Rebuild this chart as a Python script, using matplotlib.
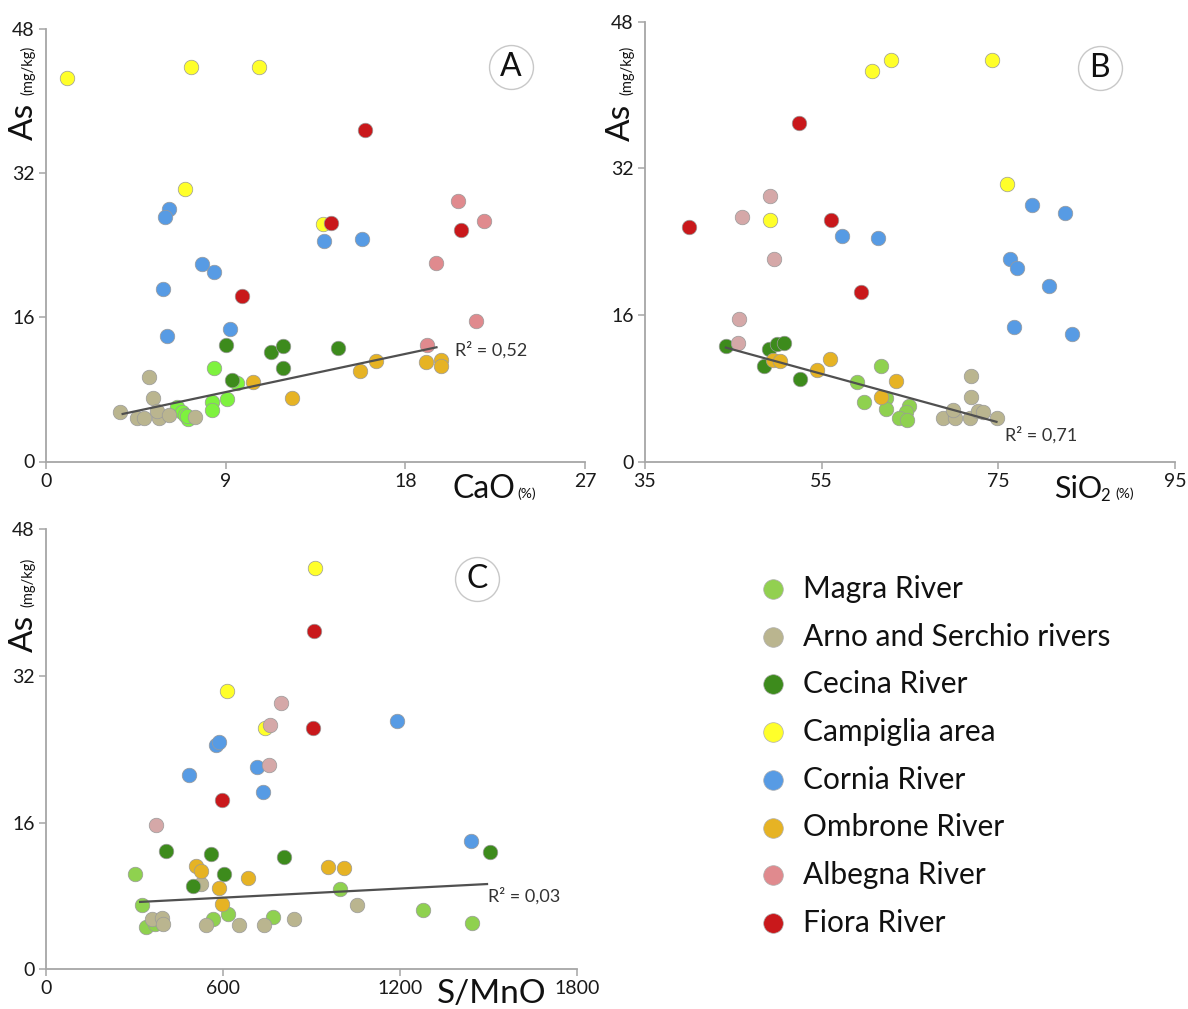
import matplotlib
matplotlib.use("Agg")
import matplotlib.pyplot as plt

plt.rcParams['font.family'] = ['Lato', 'DejaVu Sans']

# ---------------- data ----------------
GROUPS = ["Magra River", "Arno and Serchio rivers", "Cecina River", "Campiglia area",
          "Cornia River", "Ombrone River", "Albegna River", "Fiora River"]

# Panel A: CaO (%) vs As (mg/kg)
A_MAGRA_X = [8.40, 9.59, 9.05, 8.30, 8.30, 6.58, 6.81, 6.98, 7.09, 7.06]
A_MAGRA_Y = [10.4, 8.7, 6.9, 6.6, 5.7, 6.0, 5.5, 5.2, 4.7, 5.0]
A_ARNO_X = [3.72, 4.56, 4.91, 5.16, 5.37, 5.64, 5.56, 6.14, 7.48]
A_ARNO_Y = [5.5, 4.8, 4.8, 9.4, 7.0, 4.8, 5.6, 5.2, 4.9]
A_CECINA_X = [9.01, 11.28, 11.89, 14.61, 11.89, 9.32]
A_CECINA_Y = [12.9, 12.1, 12.8, 12.6, 10.4, 9.0]
A_CAMP_X = [1.05, 7.25, 10.69, 6.98, 13.87]
A_CAMP_Y = [42.5, 43.7, 43.7, 30.2, 26.3]
A_CORNIA_X = [6.18, 5.95, 13.95, 15.84, 7.79, 8.42, 5.87, 9.20, 6.08]
A_CORNIA_Y = [27.95, 27.07, 24.4, 24.7, 21.9, 21.0, 19.1, 14.7, 13.9]
A_OMBRONE_X = [10.39, 12.31, 15.74, 16.53, 19.06, 19.79, 19.79]
A_OMBRONE_Y = [8.8, 7.0, 10.0, 11.1, 11.0, 11.3, 10.6]
A_ALBEGNA_X = [20.65, 21.92, 19.55, 21.54, 19.08]
A_ALBEGNA_Y = [28.9, 26.7, 22.05, 15.6, 12.9]
A_FIORA_X = [15.97, 14.30, 20.80, 9.81]
A_FIORA_Y = [36.8, 26.4, 25.7, 18.4]
A_TREND_X = [3.84, 19.56]
A_TREND_Y = [5.27, 12.66]

# Panel B: SiO2 (%) vs As (mg/kg)
B_MAGRA_X = [61.77, 59.0, 59.81, 62.32, 62.32, 64.91, 64.53, 63.81, 64.7]
B_MAGRA_Y = [10.45, 8.7, 6.5, 7.0, 5.7, 6.1, 5.4, 4.8, 4.5]
B_ARNO_X = [71.85, 71.85, 68.7, 70.1, 69.9, 71.8, 72.66, 73.3, 74.8]
B_ARNO_Y = [9.4, 7.1, 4.8, 4.8, 5.6, 4.8, 5.55, 5.4, 4.8]
B_CECINA_X = [44.15, 49.09, 49.89, 50.79, 48.49, 52.53]
B_CECINA_Y = [12.6, 12.3, 12.85, 12.95, 10.4, 9.0]
B_CAMP_X = [60.67, 62.86, 74.3, 75.96, 49.16]
B_CAMP_Y = [42.6, 43.8, 43.8, 30.3, 26.4]
B_CORNIA_X = [57.35, 61.43, 78.8, 82.56, 76.28, 77.13, 80.74, 76.83, 83.3]
B_CORNIA_Y = [24.6, 24.4, 28.0, 27.1, 22.06, 21.1, 19.2, 14.7, 13.9]
B_OMBRONE_X = [49.47, 50.32, 55.94, 54.45, 63.43, 61.72]
B_OMBRONE_Y = [11.1, 11.0, 11.2, 10.05, 8.8, 7.1]
B_ALBEGNA_X = [49.16, 46.02, 49.55, 45.6, 45.55]
B_ALBEGNA_Y = [29.0, 26.65, 22.1, 15.6, 12.95]
B_FIORA_X = [52.44, 40.0, 56.06, 59.47]
B_FIORA_Y = [36.9, 25.6, 26.4, 18.5]
B_TREND_X = [44.15, 74.79]
B_TREND_Y = [12.45, 4.35]

# Panel C: S/MnO vs As (mg/kg)
C_MAGRA_X = [303, 326, 997, 1278, 1444, 768, 618, 565, 340, 369]
C_MAGRA_Y = [10.4, 7.0, 8.8, 6.5, 5.1, 5.75, 6.07, 5.45, 4.65, 4.95]
C_ARNO_X = [526, 1054, 840, 738, 653, 541, 359, 393, 398]
C_ARNO_Y = [9.35, 7.0, 5.5, 4.85, 4.85, 4.85, 5.45, 5.55, 4.95]
C_CECINA_X = [1505, 406, 559, 807, 604, 499]
C_CECINA_Y = [12.8, 12.9, 12.6, 12.25, 10.4, 9.1]
C_CAMP_X = [912, 614, 742]
C_CAMP_Y = [43.8, 30.35, 26.35]
C_CORNIA_X = [1190, 577, 588, 485, 716, 735, 1441]
C_CORNIA_Y = [27.1, 24.45, 24.8, 21.2, 22.1, 19.3, 14.0]
C_OMBRONE_X = [508, 524, 956, 1010, 686, 587, 596]
C_OMBRONE_Y = [11.3, 10.7, 11.2, 11.05, 10.0, 8.9, 7.1]
C_ALBEGNA_X = [798, 761, 756, 373]
C_ALBEGNA_Y = [29.0, 26.7, 22.25, 15.7]
C_FIORA_X = [910, 904, 596]
C_FIORA_Y = [36.9, 26.35, 18.5]
C_TREND_X = [319, 1495]
C_TREND_Y = [7.35, 9.3]

# ---------------- colours ----------------
COL = {"Magra River": "#8FD14F", "Arno and Serchio rivers": "#BAB58F",
       "Cecina River": "#3D8B1C", "Campiglia area": "#FFFF2A",
       "Cornia River": "#579BE4", "Ombrone River": "#E6B324",
       "Albegna River": "#D5A8A8", "Fiora River": "#C9181B"}
LEG_COL = dict(COL)
LEG_COL["Magra River"] = "#92D050"
LEG_COL["Albegna River"] = "#E08A8E"
A_COL = dict(COL)
A_COL["Magra River"] = "#7EF23E"
A_COL["Albegna River"] = "#E08A8E"

W, H = 1188, 1009
fig = plt.figure(figsize=(W / 100, H / 100), dpi=100)


def add_axes_px(x0, x1, ytop, ybot):
    return fig.add_axes([x0 / W, 1 - ybot / H, (x1 - x0) / W, (ybot - ytop) / H])


def ftext(x, y, s, **kw):
    return fig.text(x / W, 1 - y / H, s, **kw)


AXC = "#A6A6A6"


def style(ax, xlim, xticks):
    ax.set_xlim(*xlim)
    ax.set_ylim(0, 48)
    ax.set_xticks(xticks)
    ax.set_yticks([0, 16, 32, 48])
    for s in ("top", "right"):
        ax.spines[s].set_visible(False)
    for s in ("left", "bottom"):
        ax.spines[s].set_color(AXC)
        ax.spines[s].set_linewidth(1.3)
    ax.tick_params(direction="out", length=5, width=1.1, color=AXC,
                   labelsize=14, labelcolor="#1a1a1a", pad=3)
    ax.patch.set_alpha(0)


def scatter_groups(ax, data, colors):
    for g, (xs, ys) in zip(GROUPS, data):
        ax.scatter(xs, ys, s=110, c=colors[g], edgecolors="#9a9a9a",
                   linewidths=0.5, zorder=3, clip_on=False)


# ---- Panel A
axA = add_axes_px(46, 585, 28.5, 461.5)
style(axA, (0, 27), [0, 9, 18, 27])
scatter_groups(axA, [(A_MAGRA_X, A_MAGRA_Y), (A_ARNO_X, A_ARNO_Y), (A_CECINA_X, A_CECINA_Y),
                     (A_CAMP_X, A_CAMP_Y), (A_CORNIA_X, A_CORNIA_Y), (A_OMBRONE_X, A_OMBRONE_Y),
                     (A_ALBEGNA_X, A_ALBEGNA_Y), (A_FIORA_X, A_FIORA_Y)], A_COL)
axA.plot(A_TREND_X, A_TREND_Y, color="#505050", lw=1.6, zorder=4)
axA.text(20.5, 12.36, "R² = 0,52", fontsize=13, color="#333333", va="center", ha="left")

# ---- Panel B
axB = add_axes_px(645, 1175, 21.7, 461.7)
style(axB, (35, 95), [35, 55, 75, 95])
scatter_groups(axB, [(B_MAGRA_X, B_MAGRA_Y), (B_ARNO_X, B_ARNO_Y), (B_CECINA_X, B_CECINA_Y),
                     (B_CAMP_X, B_CAMP_Y), (B_CORNIA_X, B_CORNIA_Y), (B_OMBRONE_X, B_OMBRONE_Y),
                     (B_ALBEGNA_X, B_ALBEGNA_Y), (B_FIORA_X, B_FIORA_Y)], COL)
axB.plot(B_TREND_X, B_TREND_Y, color="#505050", lw=1.6, zorder=4)
axB.text(75.8, 2.9, "R² = 0,71", fontsize=13, color="#333333", va="center", ha="left")

# ---- Panel C
axC = add_axes_px(46, 577, 529.3, 969.3)
style(axC, (0, 1800), [0, 600, 1200, 1800])
scatter_groups(axC, [(C_MAGRA_X, C_MAGRA_Y), (C_ARNO_X, C_ARNO_Y), (C_CECINA_X, C_CECINA_Y),
                     (C_CAMP_X, C_CAMP_Y), (C_CORNIA_X, C_CORNIA_Y), (C_OMBRONE_X, C_OMBRONE_Y),
                     (C_ALBEGNA_X, C_ALBEGNA_Y), (C_FIORA_X, C_FIORA_Y)], COL)
axC.plot(C_TREND_X, C_TREND_Y, color="#505050", lw=1.6, zorder=4)
axC.text(1500, 8.0, "R² = 0,03", fontsize=13, color="#333333", va="center", ha="left")

# ---- panel letters in circles
for ax, (lx, ly), letter in ((axA, (23.3, 43.7), "A"), (axB, (86.5, 42.9), "B"),
                             (axC, (1460, 42.6), "C")):
    ax.scatter([lx], [ly], s=1000, facecolor="white", edgecolor="#c8c8c8",
               linewidths=1.0, zorder=5, clip_on=False)
    ax.text(lx, ly, letter, fontsize=23, ha="center", va="center", zorder=6,
            color="#111111")

# ---- y labels
for cx_as, cy_as, cx_u, cy_u in ((24, 121, 28, 70), (621, 122, 627, 70), (24, 633, 28, 582)):
    ftext(cx_as, cy_as, "As", fontsize=24, rotation=90, ha="center", va="center", color="#111111")
    ftext(cx_u, cy_u, "(mg/kg)", fontsize=10.5, rotation=90, ha="center", va="center", color="#111111")

# ---- x labels
ftext(453, 498, "CaO", fontsize=23, ha="left", va="baseline", color="#111111")
ftext(517, 498, "(%)", fontsize=10, ha="left", va="baseline", color="#111111")
ftext(1054, 498, "SiO", fontsize=22, ha="left", va="baseline", color="#111111")
ftext(1100, 501, "2", fontsize=12, ha="left", va="baseline", color="#111111")
ftext(1115, 498, "(%)", fontsize=10, ha="left", va="baseline", color="#111111")
ftext(437, 1003, "S/MnO", fontsize=24, ha="left", va="baseline", color="#111111")

# ---- legend
lax = fig.add_axes([0, 0, 1, 1])
lax.set_xlim(0, W)
lax.set_ylim(H, 0)
lax.axis("off")
lax.patch.set_alpha(0)
for i, g in enumerate(GROUPS):
    y = 589 + 47.7 * i
    lax.scatter([773], [y], s=200, c=LEG_COL[g], edgecolors="#b0b0b0", linewidths=0.5)
    lax.text(803, y, g, fontsize=21.5, va="center", ha="left", color="#111111")

fig.savefig("out.png", dpi=100)
